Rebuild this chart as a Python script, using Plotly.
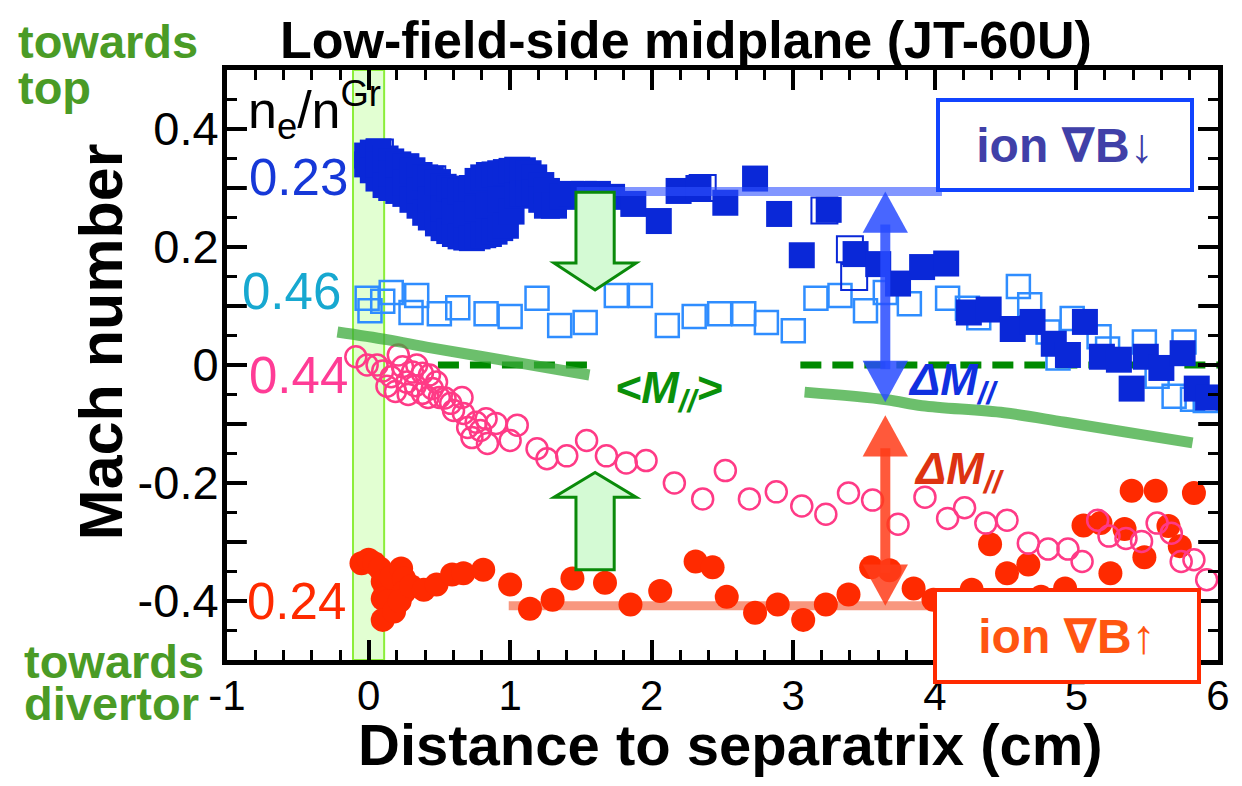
import plotly.graph_objects as go

# ---------------- data (distance to separatrix in cm, parallel Mach number) ----------------
# ion grad-B down, n_e/n^Gr = 0.23 (filled squares)
dn_lo_x = [-0.01, -0.01, 0.03, 0.03, 0.07, 0.07, 0.07, 0.12, 0.12, 0.16, 0.16, 0.16,
           0.21, 0.21, 0.26, 0.26, 0.26, 0.31, 0.31, 0.36, 0.36, 0.36, 0.40, 0.40,
           0.44, 0.44, 0.44, 0.49, 0.49, 0.53, 0.53, 0.53, 0.57, 0.57, 0.61, 0.61, 0.61,
           0.65, 0.65, 0.69, 0.69, 0.69, 0.73, 0.73, 0.77, 0.77, 0.77, 0.81, 0.81,
           0.85, 0.85, 0.85, 0.89, 0.89, 0.93, 0.93, 0.93, 0.97, 0.97, 1.01, 1.01,
           1.05, 1.05, 1.09, 1.09, 1.13, 1.13, 1.17, 1.17, 1.22, 1.22, 1.26, 1.26,
           1.31, 1.37, 1.43, 1.52, 1.62, 1.72,
           1.87, 2.05, 2.19, 2.33, 2.52, 2.73, 2.90, 3.06, 3.25, 3.44, 3.60, 3.74,
           3.91, 4.08, 4.24, 4.38, 4.55, 4.69, 4.84, 4.94, 5.06, 5.18, 5.30, 5.39,
           5.49, 5.60, 5.75, 5.85, 5.93]
dn_lo_y = [0.355, 0.340, 0.360, 0.330, 0.362, 0.316, 0.340, 0.350, 0.305, 0.345, 0.300, 0.325,
           0.340, 0.295, 0.336, 0.290, 0.310, 0.330, 0.280, 0.322, 0.270, 0.295, 0.318, 0.258,
           0.316, 0.250, 0.280, 0.310, 0.240, 0.302, 0.232, 0.265, 0.299, 0.227, 0.296, 0.222, 0.260,
           0.294, 0.218, 0.294, 0.216, 0.255, 0.300, 0.215, 0.312, 0.218, 0.265, 0.318, 0.220,
           0.322, 0.222, 0.270, 0.323, 0.226, 0.325, 0.232, 0.280, 0.327, 0.236, 0.329, 0.260,
           0.331, 0.287, 0.330, 0.290, 0.325, 0.290, 0.318, 0.292, 0.305, 0.280, 0.295, 0.270,
           0.270, 0.285, 0.290, 0.290, 0.290, 0.285,
           0.273, 0.244, 0.295, 0.300, 0.275, 0.316, 0.256, 0.186, 0.263, 0.188, 0.171, 0.138,
           0.166, 0.172, 0.089, 0.094, 0.061, 0.073, 0.036, 0.017, 0.073, 0.014, 0.009, -0.040,
           0.014, -0.005, 0.020, -0.040, -0.055]

# same condition, open symbols
dn_lo_open_x = [0.08, 0.26, 0.45, 2.36, 3.22, 3.43, 3.40]
dn_lo_open_y = [0.360, 0.335, 0.315, 0.300, 0.262, 0.149, 0.196]

# ion grad-B down, n_e/n^Gr = 0.46 (open squares)
dn_hi_x = [-0.01, 0.01, 0.10, 0.16, 0.30, 0.34, 0.50, 0.63, 0.83, 1.00, 1.19, 1.35,
           1.53, 1.75, 1.92, 2.11, 2.30, 2.48, 2.65, 2.81, 3.00, 3.16, 3.33, 3.51,
           3.65, 3.82, 4.09, 4.23, 4.31, 4.59, 4.67, 4.80, 4.87, 4.97, 5.16, 5.22,
           5.48, 5.57, 5.69, 5.76, 5.82, 5.91]
dn_hi_y = [0.113, 0.092, 0.108, 0.123, 0.089, 0.118, 0.087, 0.097, 0.087, 0.082, 0.113, 0.067,
           0.072, 0.118, 0.118, 0.067, 0.082, 0.087, 0.087, 0.072, 0.058, 0.113, 0.118, 0.092,
           0.123, 0.104, 0.113, 0.096, 0.080, 0.133, 0.102, 0.056, 0.012, 0.079, 0.048, 0.027,
           0.039, -0.019, -0.053, 0.039, -0.058, -0.060]

# ion grad-B up, n_e/n^Gr = 0.44 (open circles)
up_hi_x = [-0.09, -0.01, 0.06, 0.10, 0.13, 0.16, 0.19, 0.21, 0.24, 0.27, 0.28, 0.31,
           0.33, 0.34, 0.38, 0.38, 0.42, 0.43, 0.45, 0.48, 0.50, 0.54, 0.58, 0.60,
           0.66, 0.67, 0.70, 0.73, 0.76, 0.79, 0.83, 0.84, 0.90, 1.00, 1.05, 1.19,
           1.26, 1.40, 1.54, 1.68, 1.82, 1.96,
           2.16, 2.36, 2.52, 2.69, 2.88, 3.06, 3.23, 3.39, 3.56, 3.74, 3.93, 4.09,
           4.21, 4.36, 4.51, 4.66, 4.80, 4.94, 5.04, 5.15, 5.23, 5.35, 5.46, 5.57,
           5.67, 5.74, 5.83, 5.92]
up_hi_y = [0.014, 0.000, 0.000, -0.010, -0.036, -0.020, -0.045, 0.017, -0.003, -0.029, -0.050, -0.012,
           -0.035, 0.000, -0.014, -0.048, -0.055, -0.017, -0.040, -0.029, -0.055, -0.056, -0.065, -0.077,
           -0.055, -0.082, -0.106, -0.123, -0.097, -0.111, -0.091, -0.133, -0.099, -0.128, -0.102, -0.142,
           -0.159, -0.154, -0.128, -0.154, -0.166, -0.162,
           -0.200, -0.227, -0.179, -0.227, -0.215, -0.239, -0.253, -0.217, -0.229, -0.270, -0.224, -0.260,
           -0.242, -0.268, -0.263, -0.302, -0.312, -0.312, -0.333, -0.263, -0.290, -0.294, -0.299, -0.268,
           -0.285, -0.333, -0.330, -0.364]

# ion grad-B up, n_e/n^Gr = 0.24 (filled circles)
up_lo_x = [-0.05, 0.00, 0.04, 0.08, 0.10, 0.12, 0.10, 0.14, 0.10, 0.18, 0.16, 0.23,
           0.25, 0.25, 0.22, 0.30, 0.39, 0.48, 0.59, 0.67, 0.81,
           1.00, 1.14, 1.30, 1.44, 1.67, 1.85, 2.06, 2.31, 2.43, 2.53, 2.73, 2.89,
           3.07, 3.23, 3.39, 3.55, 3.68, 3.85, 3.99, 4.26, 4.39, 4.51, 4.66, 4.75,
           4.92, 5.05, 5.17, 5.24, 5.34, 5.39, 5.48, 5.56, 5.65, 5.73, 5.83]
up_lo_y = [-0.336, -0.330, -0.336, -0.345, -0.367, -0.380, -0.396, -0.400, -0.432, -0.418, -0.360, -0.345,
           -0.362, -0.385, -0.400, -0.375, -0.381, -0.372, -0.355, -0.353, -0.347,
           -0.372, -0.413, -0.398, -0.362, -0.369, -0.406, -0.383, -0.333, -0.343, -0.393, -0.420, -0.406,
           -0.432, -0.406, -0.389, -0.343, -0.348, -0.379, -0.398, -0.381, -0.304, -0.353, -0.338, -0.393,
           -0.379, -0.272, -0.268, -0.353, -0.278, -0.213, -0.326, -0.213, -0.273, -0.307, -0.217]

# average parallel Mach number <M//> (two pieces) and zero reference
avg_a_x = [-0.22, 0.13, 0.44, 1.03, 1.56]
avg_a_y = [0.056, 0.043, 0.029, 0.005, -0.017]
avg_b_x = [3.08, 3.66, 3.91, 4.49, 4.92, 5.82]
avg_b_y = [-0.046, -0.059, -0.069, -0.081, -0.097, -0.132]
zero_a_x = [0.49, 1.56]
zero_b_x = [3.05, 6.0]

# levels of the two low-density profiles
level_dn_x = [1.47, 4.05]
level_dn = 0.294
level_up_x = [0.99, 3.99]
level_up = -0.408

# separatrix band
band_x = [-0.11, 0.11]

# Delta M arrows
dm_x = 3.65
dm_dn_y = [0.294, -0.063]
dm_up_y = [-0.085, -0.408]

# block arrows (shift of <M//>)
blk_x = 1.60
blk_dn_y = [0.293, 0.173, 0.127]
blk_up_y = [-0.347, -0.224, -0.182]

x_ticks = [-1, 0, 1, 2, 3, 4, 5, 6]
x_ticktext = ["-1", "0", "1", "2", "3", "4", "5", "6"]
y_ticks = [-0.4, -0.2, 0.0, 0.2, 0.4]
y_ticktext = ["-0.4", "-0.2", "0", "0.2", "0.4"]
y_mid_ticks = [-0.3, -0.1, 0.1, 0.3]

FONT = "Liberation Sans, Arial, DejaVu Sans, sans-serif"

fig = go.Figure()

# reference levels below the markers
fig.add_trace(go.Scatter(x=level_up_x, y=[level_up] * 2, mode="lines",
                         line=dict(color="#f8977f", width=9), hoverinfo="skip"))
for zx in (zero_a_x, zero_b_x):
    fig.add_trace(go.Scatter(x=zx, y=[0, 0], mode="lines",
                             line=dict(color="#008a00", width=7, dash="21px,11px"),
                             hoverinfo="skip"))

# measured profiles
fig.add_trace(go.Scatter(x=dn_hi_x, y=dn_hi_y, mode="markers",
                         marker=dict(symbol="square-open", size=23, color="#2f8dff",
                                     line=dict(width=2.5))))
fig.add_trace(go.Scatter(x=dn_lo_open_x, y=dn_lo_open_y, mode="markers",
                         marker=dict(symbol="square-open", size=26, color="#0a28d8",
                                     line=dict(width=2))))
fig.add_trace(go.Scatter(x=dn_lo_x, y=dn_lo_y, mode="markers",
                         marker=dict(symbol="square", size=26, color="#0a28d8",
                                     line=dict(width=0))))
fig.add_trace(go.Scatter(x=up_lo_x, y=up_lo_y, mode="markers",
                         marker=dict(symbol="circle", size=24, color="#ff2a00",
                                     line=dict(width=0))))
fig.add_trace(go.Scatter(x=up_hi_x, y=up_hi_y, mode="markers",
                         marker=dict(symbol="circle-open", size=21, color="#ff3a86",
                                     line=dict(width=2.5))))

# <M//> and upper level drawn translucent on top
for ax_, ay_ in ((avg_a_x, avg_a_y), (avg_b_x, avg_b_y)):
    fig.add_trace(go.Scatter(x=ax_, y=ay_, mode="lines", line_shape="spline",
                             line=dict(color="rgba(59,170,59,0.75)", width=11),
                             hoverinfo="skip"))
fig.add_trace(go.Scatter(x=level_dn_x, y=[level_dn] * 2, mode="lines",
                         line=dict(color="rgba(47,80,255,0.6)", width=9), hoverinfo="skip"))

shapes = []
# separatrix band
shapes.append(dict(type="rect", xref="x", yref="y", layer="below",
                   x0=band_x[0], x1=band_x[1], y0=-0.5, y1=0.5,
                   fillcolor="#e2ffd2", line=dict(color="#8cee3a", width=2)))

# long ticks between the labelled ones, on both vertical frame edges
for yv in y_mid_ticks:
    shapes.append(dict(type="line", xref="paper", yref="y", layer="above",
                       x0=0, x1=0.02, y0=yv, y1=yv, line=dict(color="black", width=4)))
    shapes.append(dict(type="line", xref="paper", yref="y", layer="above",
                       x0=0.98, x1=1, y0=yv, y1=yv, line=dict(color="black", width=4)))


def block_arrow(x, y_tail, y_base, y_tip, bw=0.135, hw=0.29):
    p = (f"M{x - bw},{y_tail} L{x + bw},{y_tail} L{x + bw},{y_base} L{x + hw},{y_base} "
         f"L{x},{y_tip} L{x - hw},{y_base} L{x - bw},{y_base} Z")
    return dict(type="path", xref="x", yref="y", layer="above", path=p,
                fillcolor="#d4fad4", line=dict(color="#0a8a0a", width=3))


shapes.append(block_arrow(blk_x, *blk_dn_y))
shapes.append(block_arrow(blk_x, *blk_up_y))


def double_arrow(x, y_top, y_bot, color, hl=0.07, hw=0.16):
    sgn = 1 if y_top > y_bot else -1
    out = [dict(type="line", xref="x", yref="y", layer="above",
                x0=x, x1=x, y0=y_top - sgn * hl * 0.8, y1=y_bot + sgn * hl * 0.8,
                line=dict(color=color, width=10))]
    out.append(dict(type="path", xref="x", yref="y", layer="above", line=dict(width=0),
                    fillcolor=color,
                    path=f"M{x},{y_top} L{x + hw},{y_top - hl} L{x - hw},{y_top - hl} Z"))
    out.append(dict(type="path", xref="x", yref="y", layer="above", line=dict(width=0),
                    fillcolor=color,
                    path=f"M{x},{y_bot} L{x + hw},{y_bot + hl} L{x - hw},{y_bot + hl} Z"))
    return out


shapes += double_arrow(dm_x, dm_dn_y[0], dm_dn_y[1], "rgba(40,75,255,0.85)")
shapes += double_arrow(dm_x, dm_up_y[0], dm_up_y[1], "rgba(255,60,25,0.85)")

green = "#4a9b26"
ann = []


def label(text, x, y, size, color="black", xanchor="center", yanchor="middle",
          xref="paper", yref="paper", **kw):
    ann.append(dict(text=text, x=x, y=y, xref=xref, yref=yref, xanchor=xanchor,
                    yanchor=yanchor, showarrow=False,
                    font=dict(family=FONT, size=size, color=color), **kw))


label("<b>Low-field-side midplane (JT-60U)</b>", 0.463, 1.050, 52)
label("<b>Mach number</b>", -0.127, 0.539, 61, textangle=-90)
label("<b>Distance to separatrix (cm)</b>", 0.508, -0.144, 58)
label("<b>towards</b>", -0.213, 1.049, 47, color=green, xanchor="left")
label("<b>top</b>", -0.213, 0.970, 47, color=green, xanchor="left")
label("<b>towards</b>", -0.207, -0.002, 47, color=green, xanchor="left")
label("<b>divertor</b>", -0.207, -0.073, 47, color=green, xanchor="left")
label("n<sub>e</sub>/n<sup>Gr</sup>", 0.019, 0.933, 52, xanchor="left")
label("0.23", 0.124, 0.817, 51, color="#1638d8", xanchor="right")
label("0.46", 0.117, 0.624, 51, color="#17a8d0", xanchor="right")
label("0.44", 0.124, 0.483, 51, color="#ff3c96", xanchor="right")
label("0.24", 0.122, 0.100, 51, color="#ff2a00", xanchor="right")

label("<b><i>&lt;M<sub>//</sub>&gt;</i></b>", 2.12, -0.043, 45, color="#0a900a",
      xref="x", yref="y")
label("<b><i>ΔM<sub>//</sub></i></b>", 4.13, -0.030, 45, color="#1030e0",
      xref="x", yref="y")
label("<b><i>ΔM<sub>//</sub></i></b>", 4.17, -0.180, 45, color="#dd3311",
      xref="x", yref="y")

label("<b>ion ∇B↓</b>", 0.846, 0.873, 48, color="#4040a8",
      width=250, height=86, borderpad=0, borderwidth=4, bordercolor="#1144ff",
      bgcolor="white", align="center", valign="middle")
label("<b>ion ∇B↑</b>", 0.848, 0.041, 48, color="#ff5511",
      width=260, height=88, borderpad=0, borderwidth=4, bordercolor="#ff2a00",
      bgcolor="white", align="center", valign="middle")

fig.update_layout(
    width=1242, height=786,
    margin=dict(l=227, r=15, t=70, b=126),
    paper_bgcolor="white", plot_bgcolor="white",
    showlegend=False,
    shapes=shapes, annotations=ann,
    font=dict(family=FONT, color="black"),
)
fig.update_xaxes(
    range=[-1, 6], tickmode="array", tickvals=x_ticks, ticktext=x_ticktext,
    showgrid=False, zeroline=False, showline=True, linewidth=5, linecolor="black",
    mirror="allticks", ticks="inside", ticklen=20, tickwidth=4, tickcolor="black",
    minor=dict(dtick=0.2, tick0=0, ticks="inside", ticklen=10, tickwidth=3,
               tickcolor="black", showgrid=False),
    tickfont=dict(family=FONT, size=42, color="black"), ticklabelstandoff=-5,
)
fig.update_yaxes(
    range=[-0.5, 0.5], tickmode="array", tickvals=y_ticks, ticktext=y_ticktext,
    showgrid=False, zeroline=False, showline=True, linewidth=5, linecolor="black",
    mirror="allticks", ticks="inside", ticklen=20, tickwidth=4, tickcolor="black",
    minor=dict(dtick=0.05, tick0=0, ticks="inside", ticklen=10, tickwidth=3,
               tickcolor="black", showgrid=False),
    tickfont=dict(family=FONT, size=47, color="black"), ticklabelstandoff=-6,
)

fig.write_html("out.html")
